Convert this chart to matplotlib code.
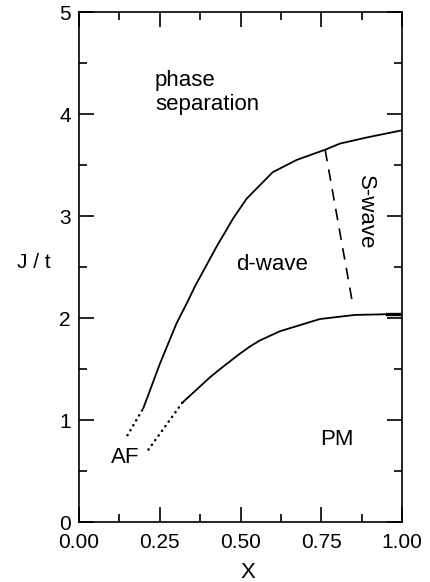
import matplotlib
matplotlib.use("Agg")
import matplotlib.pyplot as plt
from matplotlib.ticker import MultipleLocator, FormatStrFormatter

plt.rcParams['font.family'] = ['Liberation Sans', 'DejaVu Sans']

# upper boundary (d-wave / phase separation)
upper_x = [0.199, 0.251, 0.302, 0.333, 0.359, 0.426, 0.478, 0.519, 0.60, 0.674, 0.762, 0.808, 0.891, 1.0]
upper_y = [1.115, 1.556, 1.948, 2.14, 2.31, 2.70, 2.98, 3.17, 3.43, 3.55, 3.65, 3.71, 3.77, 3.84]
upper_dot_x = [0.150, 0.199]
upper_dot_y = [0.85, 1.115]

# lower boundary (d-wave / PM)
lower_x = [0.320, 0.375, 0.406, 0.437, 0.498, 0.529, 0.560, 0.622, 0.746, 0.854, 0.994, 1.0]
lower_y = [1.17, 1.33, 1.42, 1.50, 1.65, 1.72, 1.78, 1.87, 1.99, 2.03, 2.04, 2.04]
lower_dot_x = [0.215, 0.320]
lower_dot_y = [0.71, 1.17]

# d-wave / s-wave boundary
dash_x = [0.762, 0.846]
dash_y = [3.65, 2.16]

fig = plt.figure(figsize=(4.30, 5.82), dpi=100)
ax = fig.add_axes([79/430, 1-522/582, (402-79)/430, (522-12)/582])

lw = 1.3
ax.plot(upper_x, upper_y, color='black', lw=lw)
ax.plot(lower_x, lower_y, color='black', lw=lw)
ax.plot(upper_dot_x, upper_dot_y, color='black', lw=1.8, ls=(0, (0.1, 2.2)), dash_capstyle='round')
ax.plot(lower_dot_x, lower_dot_y, color='black', lw=1.8, ls=(0, (0.1, 2.2)), dash_capstyle='round')
ax.plot(dash_x, dash_y, color='black', lw=1.2, ls=(0, (7, 5)))
ax.plot([0.953, 1.0], [2.035, 2.035], color='black', lw=2.4)

ax.set_xlim(0, 1)
ax.set_ylim(0, 5)
ax.xaxis.set_major_locator(MultipleLocator(0.25))
ax.xaxis.set_minor_locator(MultipleLocator(0.125))
ax.yaxis.set_major_locator(MultipleLocator(1))
ax.yaxis.set_minor_locator(MultipleLocator(0.5))
ax.xaxis.set_major_formatter(FormatStrFormatter('%.2f'))
ax.tick_params(which='both', direction='in', top=True, right=True, width=1.2)
ax.tick_params(which='major', length=11, labelsize=15)
ax.tick_params(axis='x', which='major', pad=8)
ax.tick_params(axis='y', which='major', pad=6)
ax.tick_params(which='minor', length=5.5)
for s in ax.spines.values():
    s.set_linewidth(1.2)

ax.text(0.235, 4.33, 'phase', fontsize=16, ha='left', va='center')
ax.text(0.235, 4.09, 'separation', fontsize=16, ha='left', va='center')
ax.text(0.597, 2.52, 'd-wave', fontsize=16, ha='center', va='center')
ax.text(0.887, 3.04, 'S-wave', fontsize=16, ha='center', va='center', rotation=270)
ax.text(0.144, 0.63, 'AF', fontsize=16, ha='center', va='center')
ax.text(0.797, 0.81, 'PM', fontsize=16, ha='center', va='center')

fig.text(34/430, 1-263/582, 'J / t', fontsize=15, ha='center', va='center')
fig.text(248/430, 1-573/582, 'X', fontsize=16, ha='center', va='center')

fig.savefig('out.png', dpi=100)
